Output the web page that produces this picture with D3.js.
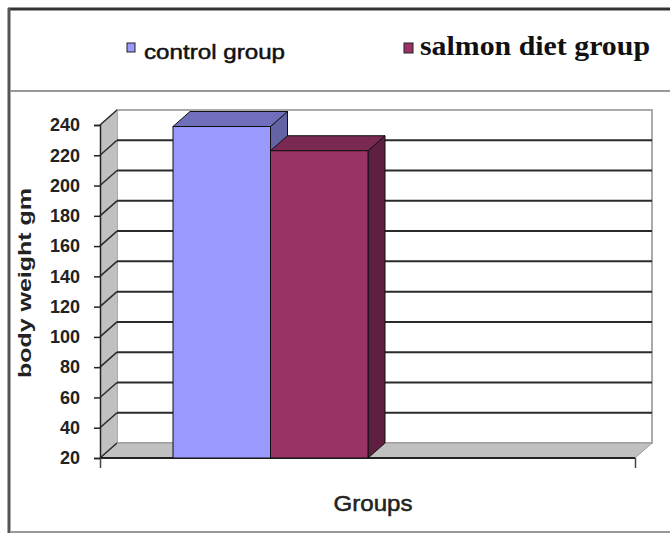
<!DOCTYPE html>
<html>
<head>
<meta charset="utf-8">
<script src="https://cdn.jsdelivr.net/npm/d3@7"></script>
<style>
  body { margin: 0; background: #fff; }
  svg { display: block; }
</style>
</head>
<body>
<div id="chart"></div>
<script>
// Data
const seriesNames = ["control group", "salmon diet group"];
const seriesValues = [239, 223];
const yTicks = [20, 40, 60, 80, 100, 120, 140, 160, 180, 200, 220, 240];
const categoryLabel = "Groups";
const yTitle = "body weight gm";

const W = 670, H = 533;
const depth = { dx: 17, dy: -15 };
const plot = { left: 100, right: 635, top: 125, bottom: 458 };

const svg = d3.select("#chart").append("svg")
  .attr("width", W).attr("height", H);

// Scales
const y = d3.scaleLinear().domain([20, 240]).range([plot.bottom, plot.top]);
const x = d3.scaleBand().domain(seriesNames).range([173, 368]).padding(0);
const fronts = ["#9999ff", "#993366"];
const tops = ["#6f6fbb", "#7a2a52"];
const sides = ["#6363a6", "#5e1f40"];

// Outer frame
svg.append("line").attr("x1", 8).attr("x2", W).attr("y1", 9).attr("y2", 9)
  .attr("stroke", "#333").attr("stroke-width", 3);
svg.append("line").attr("x1", 9).attr("x2", 9).attr("y1", 8).attr("y2", H)
  .attr("stroke", "#555").attr("stroke-width", 3);
svg.append("line").attr("x1", 10).attr("x2", W).attr("y1", 91).attr("y2", 91)
  .attr("stroke", "#999").attr("stroke-width", 2);
svg.append("line").attr("x1", 10).attr("x2", W).attr("y1", 532).attr("y2", 532)
  .attr("stroke", "#999").attr("stroke-width", 2);

// Back wall
const yMax = y(240) + depth.dy, yMin = y(20) + depth.dy;
svg.append("rect")
  .attr("x", plot.left + depth.dx).attr("y", yMax)
  .attr("width", plot.right - plot.left)
  .attr("height", yMin - yMax)
  .attr("fill", "#fff").attr("stroke", "#aaa").attr("stroke-width", 2);

// Side wall
svg.append("polygon")
  .attr("points", [
    [plot.left, y(20)], [plot.left + depth.dx, y(20) + depth.dy],
    [plot.left + depth.dx, y(240) + depth.dy], [plot.left, y(240)]
  ].join(" "))
  .attr("fill", "#c0c0c0");

// Floor
svg.append("polygon")
  .attr("points", [
    [plot.left, y(20)], [plot.left + depth.dx, y(20) + depth.dy],
    [plot.right + depth.dx, y(20) + depth.dy], [plot.right, y(20)]
  ].join(" "))
  .attr("fill", "#c0c0c0").attr("stroke", "#999").attr("stroke-width", 1);

// Gridlines
const grid = svg.append("g");
grid.selectAll(".gback")
  .data(yTicks.filter(d => d > 20 && d < 240))
  .enter().append("line")
  .attr("x1", plot.left + depth.dx).attr("x2", plot.right + depth.dx)
  .attr("y1", d => y(d) + depth.dy).attr("y2", d => y(d) + depth.dy)
  .attr("stroke", "#2a2a2a").attr("stroke-width", 2);
grid.selectAll(".gside")
  .data(yTicks)
  .enter().append("line")
  .attr("x1", plot.left).attr("x2", plot.left + depth.dx)
  .attr("y1", d => y(d)).attr("y2", d => y(d) + depth.dy)
  .attr("stroke", "#2a2a2a").attr("stroke-width", 1.5);

// Floor front edge
svg.append("line")
  .attr("x1", plot.left).attr("x2", plot.right)
  .attr("y1", y(20)).attr("y2", y(20))
  .attr("stroke", "#222").attr("stroke-width", 2);

// Bars
const bars = svg.append("g");
seriesNames.forEach((name, i) => {
  const x0 = x(name), bw = x.bandwidth(), yv = y(seriesValues[i]), yb = y(20);
  const g = bars.append("g");
  g.append("polygon")
    .attr("points", [[x0 + bw, yv], [x0 + bw + depth.dx, yv + depth.dy],
      [x0 + bw + depth.dx, yb + depth.dy], [x0 + bw, yb]].join(" "))
    .attr("fill", sides[i]).attr("stroke", "#111").attr("stroke-width", 1);
  g.append("polygon")
    .attr("points", [[x0, yv], [x0 + depth.dx, yv + depth.dy],
      [x0 + bw + depth.dx, yv + depth.dy], [x0 + bw, yv]].join(" "))
    .attr("fill", tops[i]).attr("stroke", "#111").attr("stroke-width", 1);
  g.append("rect")
    .attr("x", x0).attr("y", yv).attr("width", bw).attr("height", yb - yv)
    .attr("fill", fronts[i]).attr("stroke", "#111").attr("stroke-width", 1);
});

// Y axis
const yAxis = svg.append("g")
  .attr("transform", `translate(${plot.left},0)`)
  .call(d3.axisLeft(y).tickValues(yTicks).tickSize(6).tickPadding(14));
yAxis.select(".domain").attr("stroke", "#222").attr("stroke-width", 1.5);
yAxis.selectAll(".tick line").attr("stroke", "#222").attr("stroke-width", 1.5);
yAxis.selectAll(".tick text")
  .attr("font-family", "Liberation Sans, Arial, sans-serif")
  .attr("font-size", 18).attr("font-weight", "bold").attr("fill", "#222");

// X axis ticks (category edges)
svg.append("g")
  .attr("transform", `translate(0,${plot.bottom})`)
  .call(d3.axisBottom(d3.scaleLinear().range([plot.left, plot.right]))
    .tickValues([0, 1]).tickSize(10).tickFormat(""))
  .call(g => g.select(".domain").remove())
  .selectAll(".tick line").attr("stroke", "#444").attr("stroke-width", 1.5);

// Axis titles
svg.append("text")
  .attr("transform", "translate(31,283) rotate(-90)")
  .attr("text-anchor", "middle")
  .attr("font-family", "Liberation Sans, Arial, sans-serif")
  .attr("font-size", 18).attr("font-weight", "bold").attr("fill", "#222")
  .attr("textLength", 190).attr("lengthAdjust", "spacingAndGlyphs")
  .text(yTitle);
svg.append("text")
  .attr("x", 373).attr("y", 511)
  .attr("text-anchor", "middle")
  .attr("font-family", "Liberation Sans, Arial, sans-serif")
  .attr("font-size", 22).attr("fill", "#222")
  .attr("stroke", "#222").attr("stroke-width", 0.5)
  .attr("textLength", 79).attr("lengthAdjust", "spacingAndGlyphs")
  .text(categoryLabel);

// Legend
const legend = svg.append("g");
legend.append("rect").attr("x", 127).attr("y", 43).attr("width", 8).attr("height", 9)
  .attr("fill", fronts[0]).attr("stroke", "#222").attr("stroke-width", 1);
legend.append("text").attr("x", 144).attr("y", 59)
  .attr("font-family", "Liberation Sans, Arial, sans-serif")
  .attr("font-size", 21).attr("fill", "#111")
  .attr("stroke", "#111").attr("stroke-width", 0.5)
  .attr("textLength", 141).attr("lengthAdjust", "spacingAndGlyphs")
  .text(seriesNames[0]);
legend.append("rect").attr("x", 404).attr("y", 43).attr("width", 9).attr("height", 10)
  .attr("fill", fronts[1]).attr("stroke", "#222").attr("stroke-width", 1);
legend.append("text").attr("x", 420).attr("y", 55)
  .attr("font-family", "Liberation Serif, Times New Roman, serif")
  .attr("font-size", 27).attr("font-weight", "bold").attr("fill", "#111")
  .attr("textLength", 230).attr("lengthAdjust", "spacingAndGlyphs")
  .text(seriesNames[1]);
</script>
</body>
</html>
